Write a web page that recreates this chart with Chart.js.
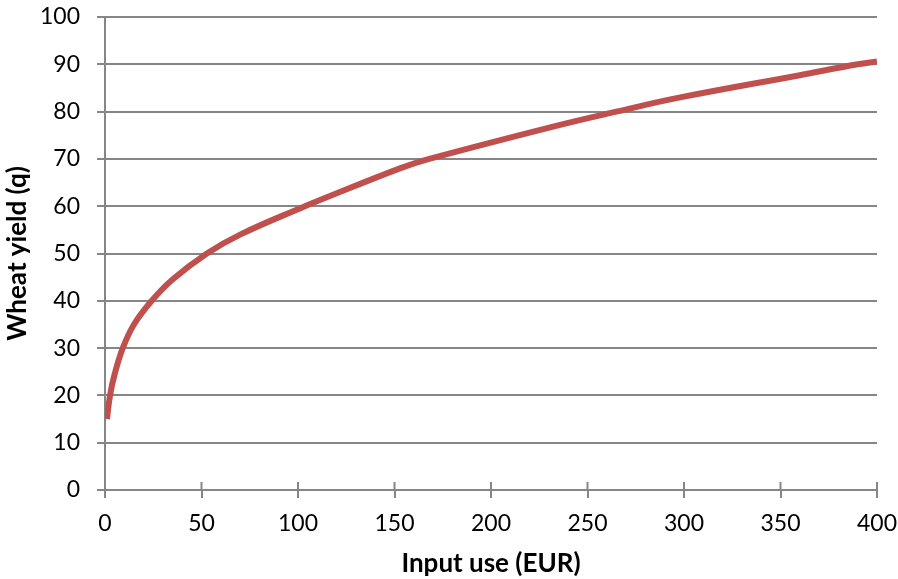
<!DOCTYPE html>
<html lang="en">
<head>
    <meta charset="UTF-8">
    <title>Wheat yield vs input use</title>
    <script src="https://cdn.jsdelivr.net/npm/chart.js"></script>
    <style>
        html, body { margin: 0; padding: 0; background: #fff; }
        #wrap { width: 898px; height: 579px; }
    </style>
</head>
<body>
    <div id="wrap"><canvas id="yieldChart" width="898" height="579"></canvas></div>

    <script>
        // Values (mostly where it crosses the gridlines)
        const inputUse = [1, 2.6, 5, 9.2, 15, 24.2, 35, 52.8, 70, 103.6, 111.4, 152.8, 168, 235.8, 265, 298, 360, 390, 400];
        const wheatYield = [15, 20, 24.5, 30, 35, 40, 44.5, 50, 54, 60, 61.3, 68, 70, 77.2, 80, 83, 87.7, 90, 90.6];

        const gridGray = '#868686';
        const fontFamily = 'Lato, "Open Sans", sans-serif';

        const points = inputUse.map((x, i) => ({ x: x, y: wheatYield[i] }));

        // Excel-style x ticks cross the axis line (also poke up into the plot)
        const crossTicks = {
            id: 'crossTicks',
            afterDraw(chart) {
                const xs = chart.scales.x;
                const ctx = chart.ctx;
                ctx.save();
                ctx.strokeStyle = gridGray;
                ctx.lineWidth = 2;
                xs.ticks.forEach(t => {
                    const px = xs.getPixelForValue(t.value);
                    ctx.beginPath();
                    ctx.moveTo(px, xs.top);
                    ctx.lineTo(px, xs.top - 8);
                    ctx.stroke();
                });
                ctx.restore();
            }
        };

        new Chart(document.getElementById('yieldChart'), {
            type: 'line',
            data: {
                datasets: [{
                    label: 'Wheat yield',
                    data: points,
                    borderColor: '#C0504D',
                    borderWidth: 6,
                    pointRadius: 0,
                    tension: 0.4,
                    fill: false
                }]
            },
            options: {
                responsive: false,
                animation: false,
                layout: { autoPadding: false, padding: 0 },
                plugins: {
                    legend: { display: false },
                    tooltip: { enabled: false }
                },
                scales: {
                    x: {
                        type: 'linear',
                        min: 0,
                        max: 400,
                        ticks: { stepSize: 50, padding: 12, color: '#000', font: { family: fontFamily, size: 23 } },
                        grid: { drawOnChartArea: false, drawTicks: true, tickLength: 8, color: gridGray, lineWidth: 2 },
                        border: { display: true, color: gridGray, width: 2 },
                        title: {
                            display: true,
                            text: 'Input use (EUR)',
                            color: '#000',
                            font: { family: fontFamily, size: 26, weight: 'bold' },
                            padding: { top: 0, bottom: 0 }
                        },
                        afterFit: (scale) => {
                            scale.height = 89;
                            scale.paddingLeft = 0;
                            scale.paddingRight = 21;
                        }
                    },
                    y: {
                        min: 0,
                        max: 100,
                        ticks: { stepSize: 10, padding: 17, color: '#000', font: { family: fontFamily, size: 23 } },
                        grid: { color: gridGray, lineWidth: 2, tickLength: 8 },
                        border: { display: true, color: gridGray, width: 2 },
                        title: {
                            display: true,
                            text: 'Wheat yield (q)',
                            color: '#000',
                            font: { family: fontFamily, size: 26, weight: 'bold' },
                            padding: { top: 2, bottom: 0 }
                        },
                        afterFit: (scale) => {
                            scale.width = 105;
                            scale.paddingTop = 17;
                            scale.paddingBottom = 0;
                        }
                    }
                }
            },
            plugins: [crossTicks]
        });
    </script>
</body>
</html>
